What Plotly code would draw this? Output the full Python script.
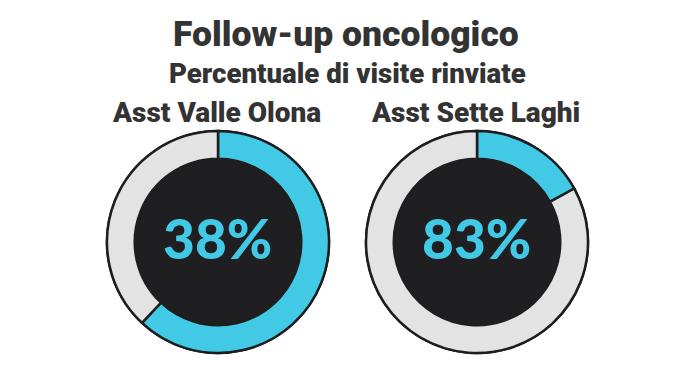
import plotly.graph_objects as go

regions = ["Asst Valle Olona", "Asst Sette Laghi"]
percent = [38, 83]
remaining = [100 - p for p in percent]

W, H = 695, 377
OFF = 8  # page body margin
BLUE = "#41c9e6"
GRAY = "#e3e3e3"
DARK = "#1f1f21"
OUT = "#1e1e1e"
TXT = "#333333"


def px(x):
    return (x - OFF) / W


def py(y):
    return 1 - (y - OFF) / H


centers = [(218, 242), (477, 242)]
R = 111

fig = go.Figure()
for i, (cx, cy) in enumerate(centers):
    dom = dict(x=[px(cx - R), px(cx + R)], y=[py(cy + R), py(cy - R)])
    fig.add_trace(go.Pie(values=[1], labels=["bg"], domain=dom, sort=False,
                         marker=dict(colors=[DARK], line=dict(color=OUT, width=2.5)),
                         textinfo="none", hoverinfo="skip", showlegend=False))
    fig.add_trace(go.Pie(values=[remaining[i], percent[i]], labels=["altro", "rinviate"],
                         domain=dom, hole=0.75, sort=False, direction="counterclockwise",
                         rotation=0,
                         marker=dict(colors=[BLUE, GRAY], line=dict(color=OUT, width=2.5)),
                         textinfo="none", showlegend=False))
    fig.add_annotation(x=px(cx - 1), y=py(cy - 4), xref="paper", yref="paper",
                       xanchor="center", yanchor="middle",
                       text=f"{percent[i]}%", showarrow=False,
                       font=dict(family="Lato, sans-serif", size=55, color=BLUE, weight=900))
    fig.add_annotation(x=px(cx - 2), y=py(112), xref="paper", yref="paper",
                       xanchor="center", yanchor="middle",
                       text=regions[i], showarrow=False,
                       font=dict(family="Roboto, sans-serif", size=28, color=TXT, weight=900))

fig.add_annotation(x=px(346), y=py(34), xref="paper", yref="paper",
                   xanchor="center", yanchor="middle",
                   text="Follow-up oncologico", showarrow=False,
                   font=dict(family="Roboto, sans-serif", size=35.5, color=TXT, weight=900))
fig.add_annotation(x=px(347), y=py(73), xref="paper", yref="paper",
                   xanchor="center", yanchor="middle",
                   text="Percentuale di visite rinviate", showarrow=False,
                   font=dict(family="Roboto, sans-serif", size=27.6, color=TXT, weight=900))

fig.update_layout(width=W, height=H, margin=dict(l=0, r=0, t=0, b=0),
                  paper_bgcolor="white", plot_bgcolor="white")
fig.write_html("out.html")
